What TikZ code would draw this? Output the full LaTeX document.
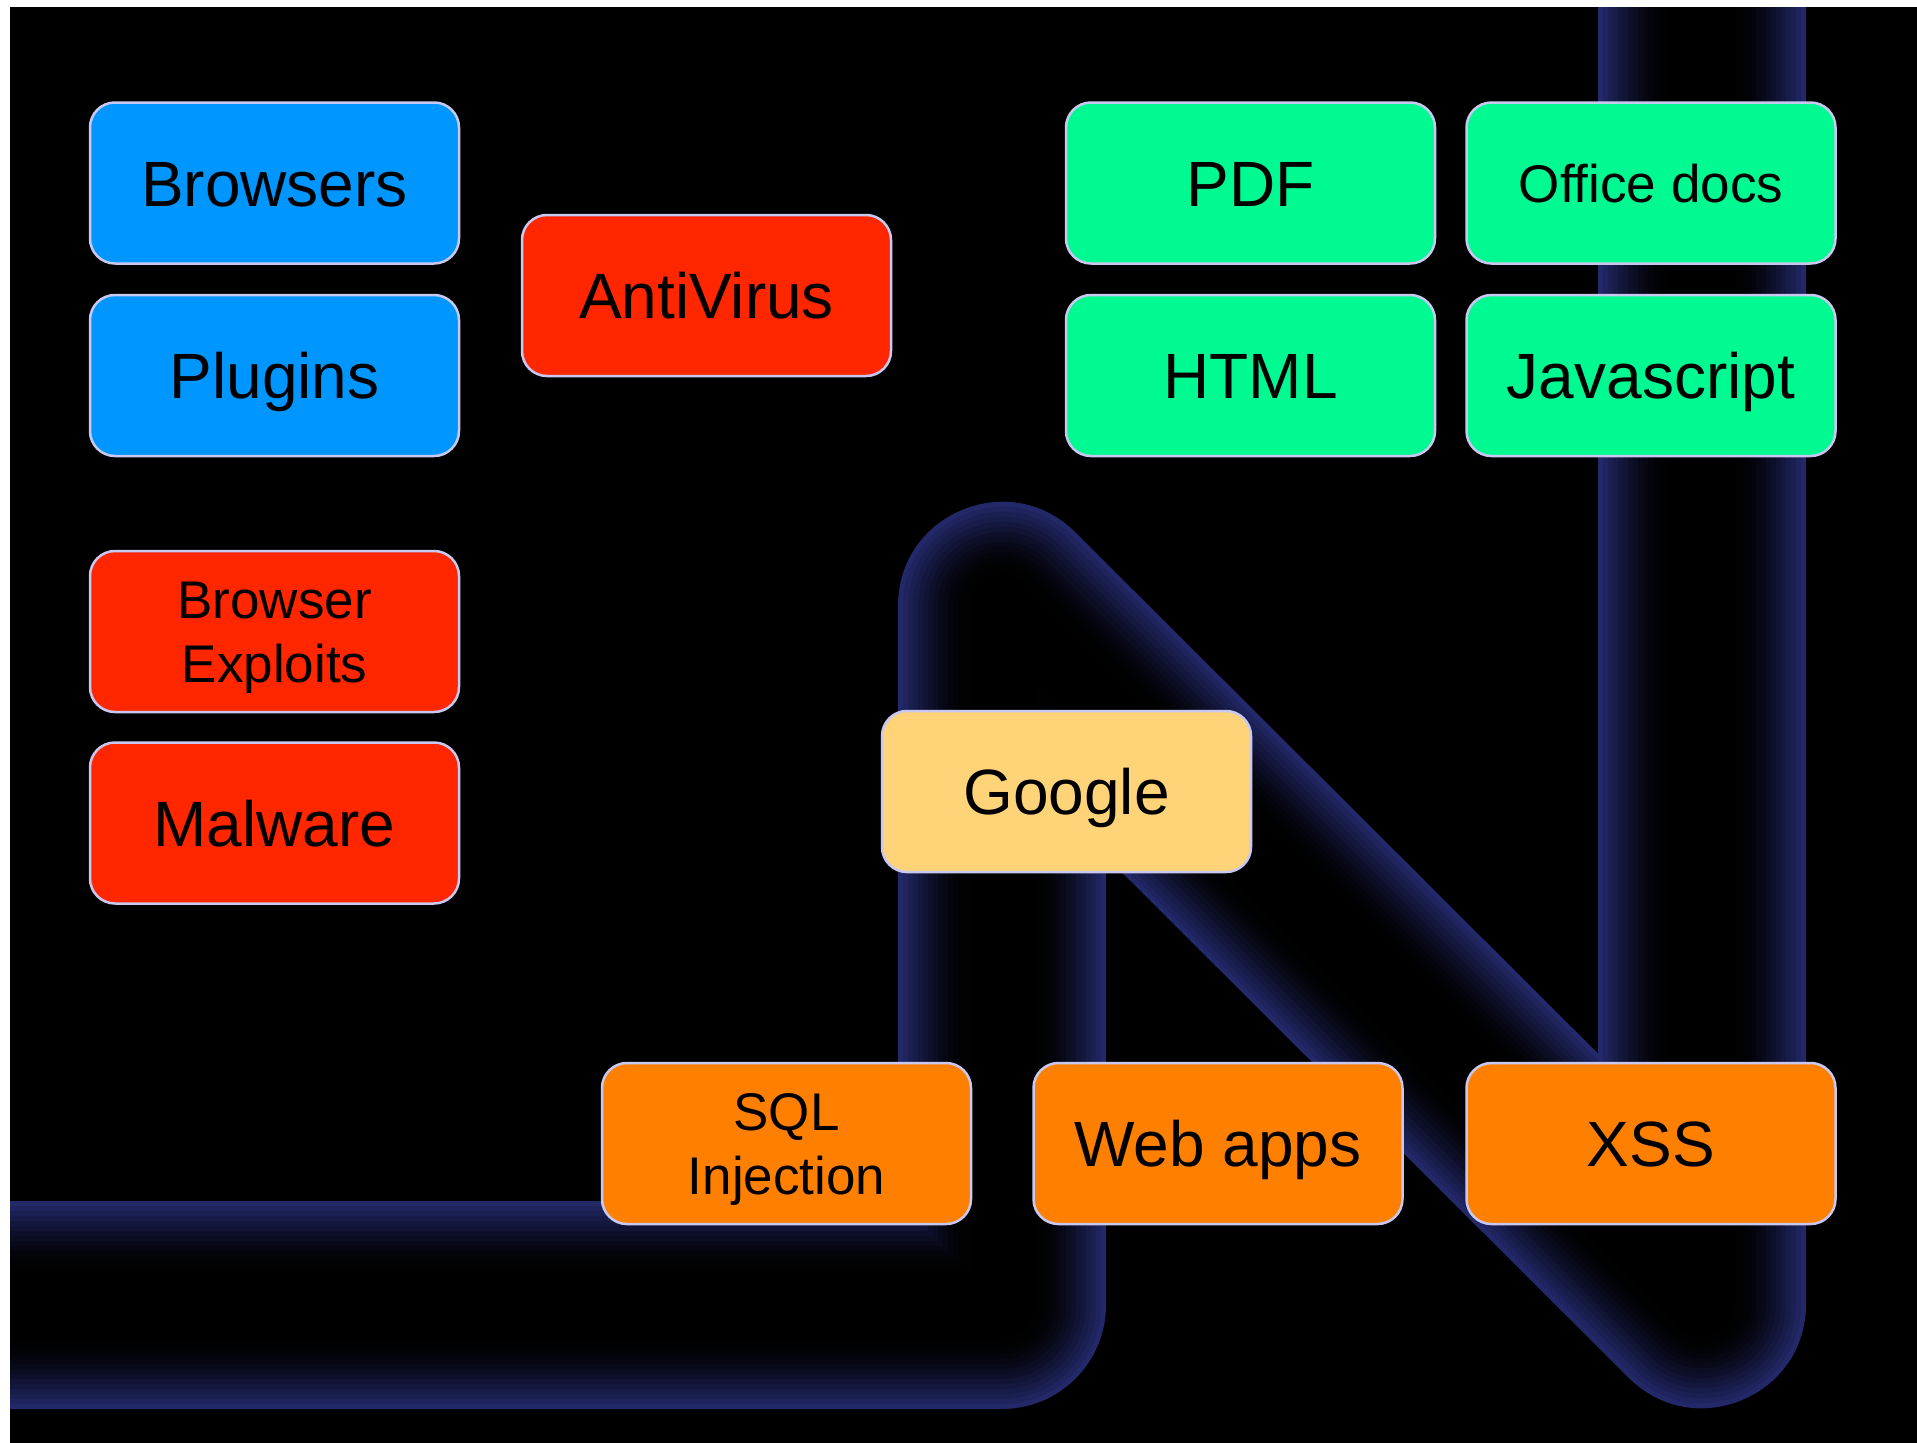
\documentclass[tikz,border=0pt]{standalone}
\usepackage{fontspec}
\setmainfont{Liberation Sans}
\definecolor{tubeblue}{RGB}{34,40,104}
\definecolor{aqua}{RGB}{0,150,255}
\definecolor{mred}{RGB}{255,38,0}
\definecolor{seafoam}{RGB}{0,250,146}
\definecolor{canta}{RGB}{255,212,121}
\definecolor{orng}{RGB}{255,128,0}
\definecolor{edgec}{RGB}{200,200,240}
\tikzset{
  box/.style={draw=edgec, line width=2.5pt, rounded corners=25pt,
    minimum width=369pt, minimum height=161pt, inner sep=0pt, text=black,
    font=\fontsize{64}{77}\selectfont, text height=46pt, text depth=0pt},
  twoline/.style={font=\fontsize{53}{64}\selectfont, align=center,
    text height=102pt, text depth=0pt},
  midline/.style={font=\fontsize{53}{64}\selectfont, text height=38pt},
}
\begin{document}
\begin{tikzpicture}[x=1pt,y=-1pt]
\useasboundingbox (0,0) rectangle (1917,1443);
\fill[white] (0,0) rectangle (1917,1443);
\fill[black] (10,7) rectangle (1917,1443);
% tube
\coordinate (t0) at (0,1305);
\coordinate (t1) at (1002,1305);
\coordinate (t2) at (1002,606);
\coordinate (t3) at (1702,1304);
\coordinate (t4) at (1702,0);
\begin{scope}
\clip (10,7) rectangle (1917,1443);
\foreach \w/\p in {208/100,198/90,188/80,178/70,168/60,158/50,148/41,138/33,128/25,118/18,108/12,98/7,88/4,78/2,64/0} {
  \draw[line width=\w pt, tubeblue!\p!black, line join=round] (t0) -- (t1) -- (t2) -- (t3) -- (t4);
}
\end{scope}
% boxes
\node[box, fill=aqua] (browsers) at (274.5,183) {Browsers};
\node[box, fill=aqua] (plugins) at (274.5,375.5) {Plugins};
\node[box, fill=mred, twoline] (bexp) at (274.5,631.5) {Browser\\Exploits};
\node[box, fill=mred] (malware) at (274.5,823) {Malware};
\node[box, fill=mred] (antivirus) at (706.5,295.5) {AntiVirus};
\node[box, fill=seafoam] (pdf) at (1250.5,183) {PDF};
\node[box, fill=seafoam, midline] (office) at (1651,183) {Office docs};
\node[box, fill=seafoam] (html) at (1250.5,375.5) {HTML};
\node[box, fill=seafoam] (js) at (1651,375.5) {Javascript};
\node[box, fill=canta] (google) at (1066.5,791.5) {Google};
\node[box, fill=orng, twoline] (sql) at (786.5,1143.5) {SQL\\Injection};
\node[box, fill=orng] (webapps) at (1218,1143.5) {Web apps};
\node[box, fill=orng] (xss) at (1651,1143.5) {XSS};
\end{tikzpicture}
\end{document}
